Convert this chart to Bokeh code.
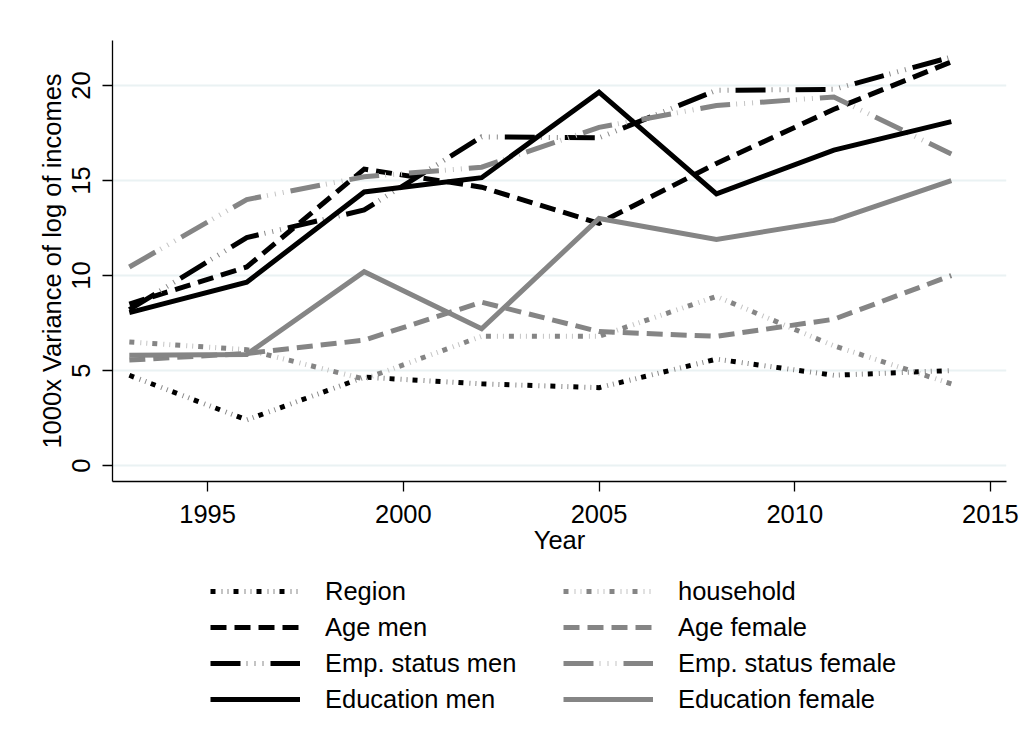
from bokeh.plotting import figure
from bokeh.layouts import column
from bokeh.models import Range1d, FixedTicker, Legend, LegendItem
from bokeh.embed import file_html
from bokeh.resources import INLINE

years = [1993, 1996, 1999, 2002, 2005, 2008, 2011, 2014]
region = [4.75, 2.4, 4.65, 4.3, 4.1, 5.6, 4.75, 5.0]
household = [6.5, 6.1, 4.55, 6.8, 6.8, 8.9, 6.3, 4.3]
age_men = [8.5, 10.45, 15.6, 14.65, 12.75, 15.9, 18.75, 21.25]
age_female = [5.55, 5.9, 6.6, 8.6, 7.05, 6.8, 7.7, 10.0]
emp_men = [8.2, 12.0, 13.45, 17.3, 17.25, 19.75, 19.8, 21.5]
emp_female = [10.45, 14.0, 15.2, 15.7, 17.8, 18.95, 19.4, 16.4]
edu_men = [8.05, 9.65, 14.4, 15.15, 19.65, 14.3, 16.6, 18.1]
edu_female = [5.8, 5.85, 10.2, 7.2, 13.0, 11.9, 12.9, 15.0]

labels = ["Region", "household", "Age men", "Age female",
          "Emp. status men", "Emp. status female", "Education men", "Education female"]
values = [region, household, age_men, age_female, emp_men, emp_female, edu_men, edu_female]

x_ticks = [1995, 2000, 2005, 2010, 2015]
y_ticks = [0, 5, 10, 15, 20]

FONT = "Liberation Sans"
FS = "25.5px"
BLACK = "#000000"
GREY = "#858585"

# style: (main dash, tick dash or None)
DOT = ("5 18", "0 11 1 5 1 5")
DASH = ("16 8", None)
LONGDASH = ("30 30", "0 36 1 7 1 7 1 7")
SOLID = ("solid", None)
styles = [(BLACK, DOT), (GREY, DOT), (BLACK, DASH), (GREY, DASH),
          (BLACK, LONGDASH), (GREY, LONGDASH), (BLACK, SOLID), (GREY, SOLID)]

W = 1021
p = figure(width=W, height=560, output_backend="svg", toolbar_location=None,
           x_range=Range1d(1992.57, 2015.41), y_range=Range1d(-0.84, 22.37),
           min_border_left=112, min_border_right=15, min_border_top=40,
           min_border_bottom=79)
p.outline_line_color = None
p.background_fill_color = "white"
p.border_fill_color = "white"

p.xaxis.ticker = FixedTicker(ticks=x_ticks)
p.yaxis.ticker = FixedTicker(ticks=y_ticks)
p.xaxis.axis_label = "Year"
p.yaxis.axis_label = "1000x Variance of log of incomes"
for ax in (p.xaxis[0], p.yaxis[0]):
    ax.axis_line_color = "#000000"
    ax.axis_line_width = 1.3
    ax.major_tick_line_color = "#000000"
    ax.major_tick_line_width = 1.3
    ax.major_tick_in = 0
    ax.major_tick_out = 10
    ax.minor_tick_line_color = None
    ax.major_label_text_font = FONT
    ax.major_label_text_font_size = FS
    ax.major_label_text_color = "#000000"
    ax.axis_label_text_font = FONT
    ax.axis_label_text_font_size = FS
    ax.axis_label_text_font_style = "normal"
    ax.axis_label_text_color = "#000000"
p.yaxis.major_label_orientation = "vertical"
p.xaxis.major_label_standoff = 13
p.xaxis.axis_label_standoff = 0
p.yaxis.major_label_standoff = 12
p.yaxis.axis_label_standoff = 4

p.xgrid.grid_line_color = None
p.ygrid.grid_line_color = "#eaf2f3"
p.ygrid.grid_line_width = 2

# legend panel (separate figure below the chart; its frame aligns with the chart's)
lf = figure(width=W, height=188, output_backend="svg", toolbar_location=None,
            x_axis_type=None, y_axis_type=None, min_border=0,
            x_range=Range1d(0, 1), y_range=Range1d(0, 1))
lf.outline_line_color = None
lf.xgrid.grid_line_color = None
lf.ygrid.grid_line_color = None
lf.background_fill_color = "white"
lf.border_fill_color = "white"

def draw(fig, vals, col, dash, tick, visible=True):
    rs = [fig.line(years, vals, line_color=col, line_width=5, line_dash=dash,
                   line_join="miter", visible=visible)]
    if tick is not None:
        tcol = "#8a8a8a" if col == BLACK else "#c4c4c4"
        rs.append(fig.line(years, vals, line_color=tcol, line_width=5, line_dash=tick,
                           line_join="miter", visible=visible))
    return rs

legend_renderers = []
for lab, vals, (col, (dash, tick)) in zip(labels, values, styles):
    draw(p, vals, col, dash, tick)
    legend_renderers.append((lab, draw(lf, vals, col, dash, tick, visible=False)))

def make_legend(items, x):
    return Legend(items=[LegendItem(label=l, renderers=r) for l, r in items],
                  location=(x, 31), orientation="vertical",
                  glyph_width=90, glyph_height=36, label_height=36, spacing=0,
                  label_standoff=25, padding=0, margin=0,
                  border_line_color=None, background_fill_alpha=0,
                  inactive_fill_alpha=0, click_policy="none",
                  label_text_font=FONT, label_text_font_size=FS,
                  label_text_color="#000000")

left_items = [legend_renderers[i] for i in (0, 2, 4, 6)]
right_items = [legend_renderers[i] for i in (1, 3, 5, 7)]
lf.add_layout(make_legend(left_items, 98), "center")
lf.add_layout(make_legend(right_items, 451), "center")

layout = column(p, lf, spacing=0)
open("out.html", "w").write(file_html(layout, INLINE))
